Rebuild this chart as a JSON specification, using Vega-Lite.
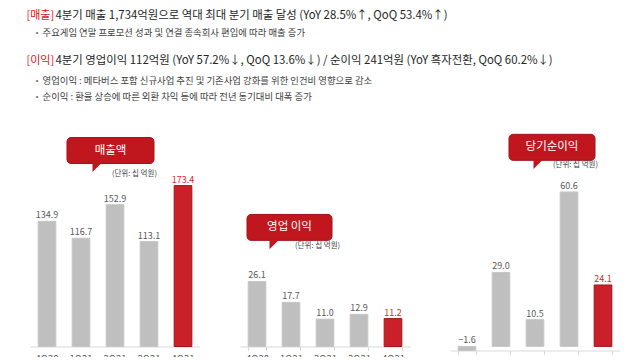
{
  "$schema": "https://vega.github.io/schema/vega-lite/v6.json",
  "background": "white",
  "padding": {"left": 26, "top": 0, "right": 0, "bottom": -10},
  "bounds": "flush",
  "spacing": 8.25,
  "config": {
    "font": "Noto Sans CJK KR",
    "view": {"stroke": null},
    "axis": {"labelFont": "Noto Sans CJK KR"}
  },
  "vconcat": [
    {
      "width": 1,
      "height": 49,
      "data": {"values": [
        {"line": "1", "kind": "head", "prefix": "[매출]", "text": "4분기 매출 1,734억원으로 역대 최대 분기 매출 달성 (YoY 28.5%↑, QoQ 53.4%↑)"},
        {"line": "2", "kind": "bullet", "prefix": "", "text": "주요게임 연말 프로모션 성과 및 연결 종속회사 편입에 따라 매출 증가"}
      ]},
      "encoding": {"y": {"field": "line", "type": "ordinal", "axis": null, "scale": {"type": "point", "padding": 0.94}}},
      "layer": [
        {"transform": [{"filter": "datum.kind === 'head'"}], "mark": {"type": "text", "align": "left", "baseline": "middle", "dx": -4, "fontSize": 11, "color": "#e0121b"}, "encoding": {"text": {"field": "prefix"}}},
        {"transform": [{"filter": "datum.kind === 'head'"}], "mark": {"type": "text", "align": "left", "baseline": "middle", "dx": 25, "fontSize": 11.4, "color": "#262626"}, "encoding": {"text": {"field": "text"}}},
        {"transform": [{"filter": "datum.kind === 'bullet'"}], "mark": {"type": "text", "align": "left", "baseline": "middle", "dx": 3, "fontSize": 7, "color": "#7f7f7f"}, "encoding": {"text": {"value": "▪"}}},
        {"transform": [{"filter": "datum.kind === 'bullet'"}], "mark": {"type": "text", "align": "left", "baseline": "middle", "dx": 12, "fontSize": 9.4, "color": "#404040"}, "encoding": {"text": {"field": "text"}}}
      ]
    },
    {
      "width": 1,
      "height": 64.5,
      "data": {"values": [
        {"line": "3", "kind": "head", "prefix": "[이익]", "text": "4분기 영업이익 112억원 (YoY 57.2%↓, QoQ 13.6%↓) / 순이익 241억원 (YoY 흑자전환, QoQ 60.2%↓)"},
        {"line": "4", "kind": "bullet", "prefix": "", "text": "영업이익 : 메타버스 포함 신규사업 추진 및 기존사업 강화를 위한 인건비 영향으로 감소"},
        {"line": "5", "kind": "bullet", "prefix": "", "text": "순이익 : 환율 상승에 따른 외환 차익 등에 따라 전년 동기대비 대폭 증가"}
      ]},
      "encoding": {"y": {"field": "line", "type": "ordinal", "axis": null, "scale": {"type": "point", "padding": 1.081, "align": 0.231}}},
      "layer": [
        {"transform": [{"filter": "datum.kind === 'head'"}], "mark": {"type": "text", "align": "left", "baseline": "middle", "dx": -4, "dy": -4, "fontSize": 11, "color": "#e0121b"}, "encoding": {"text": {"field": "prefix"}}},
        {"transform": [{"filter": "datum.kind === 'head'"}], "mark": {"type": "text", "align": "left", "baseline": "middle", "dx": 25, "dy": -4, "fontSize": 11.4, "color": "#262626"}, "encoding": {"text": {"field": "text"}}},
        {"transform": [{"filter": "datum.kind === 'bullet'"}], "mark": {"type": "text", "align": "left", "baseline": "middle", "dx": 3, "fontSize": 7, "color": "#7f7f7f"}, "encoding": {"text": {"value": "▪"}}},
        {"transform": [{"filter": "datum.kind === 'bullet'"}], "mark": {"type": "text", "align": "left", "baseline": "middle", "dx": 12, "fontSize": 9.4, "color": "#404040"}, "encoding": {"text": {"field": "text"}}}
      ]
    },
    {
      "bounds": "flush",
      "spacing": 40,
      "hconcat": [
        {
          "width": 170,
          "height": 216,
          "resolve": {"scale": {"x": "independent"}},
          "layer": [
            {
              "data": {"values": [
                {"quarter": "4Q20", "value": 134.9, "period": "prior"},
                {"quarter": "1Q21", "value": 116.7, "period": "prior"},
                {"quarter": "2Q21", "value": 152.9, "period": "prior"},
                {"quarter": "3Q21", "value": 113.1, "period": "prior"},
                {"quarter": "4Q21", "value": 173.4, "period": "current"}
              ]},
              "encoding": {
                "x": {"field": "quarter", "type": "nominal", "sort": null, "scale": {"paddingInner": 0.48, "paddingOuter": 0.24},
                  "axis": {"title": null, "labelAngle": 0, "labelFontSize": 9.5, "labelColor": "#595959", "domainColor": "#d9d9d9", "ticks": false, "labelPadding": 7}},
                "y": {"field": "value", "type": "quantitative", "scale": {"domain": [0, 232.8], "nice": false}, "axis": null}
              },
              "layer": [
                {"mark": {"type": "bar", "strokeWidth": 1},
                  "encoding": {
                    "fill": {"condition": {"test": "datum.period === 'current'", "value": "#c9202a"}, "value": "#bfbfbf"},
                    "stroke": {"condition": {"test": "datum.period === 'current'", "value": "#a3161d"}, "value": "#c6c6c6"}
                  }},
                {"mark": {"type": "text", "baseline": "bottom", "dy": -1, "fontSize": 9},
                  "encoding": {
                    "text": {"field": "value", "type": "quantitative", "format": ".1f"},
                    "color": {"condition": {"test": "datum.period === 'current'", "value": "#e0242e"}, "value": "#595959"}
                  }}
              ]
            },
            {
              "data": {"values": [{"title": "매출액", "unit": "(단위: 십 억원)"}]},
              "layer": [
                {"mark": {"type": "rect", "fill": "#c0171f", "stroke": "#a31219", "cornerRadius": 4},
                  "encoding": {
                    "x": {"datum": 1.088, "type": "quantitative", "scale": {"domain": [0, 5], "nice": false, "zero": false}, "axis": null},
                    "x2": {"datum": 3.647},
                    "y": {"datum": 225.2, "type": "quantitative"},
                    "y2": {"datum": 197.2}
                  }},
                {"mark": {"type": "point", "shape": "M-1,-1L-1,1L1,-1Z", "filled": true, "fill": "#c0171f", "opacity": 1, "size": 81},
                  "encoding": {
                    "x": {"datum": 1.97, "type": "quantitative"},
                    "y": {"datum": 192.9, "type": "quantitative"}
                  }},
                {"mark": {"type": "text", "color": "white", "fontSize": 11.5, "baseline": "middle"},
                  "encoding": {
                    "x": {"datum": 2.368, "type": "quantitative"},
                    "y": {"datum": 211.2, "type": "quantitative"},
                    "text": {"field": "title"}
                  }},
                {"mark": {"type": "text", "color": "#404040", "fontSize": 7.5, "align": "left", "baseline": "middle"},
                  "encoding": {
                    "x": {"datum": 2.41, "type": "quantitative"},
                    "y": {"datum": 186.4, "type": "quantitative"},
                    "text": {"field": "unit"}
                  }}
              ]
            }
          ]
        },
        {
          "width": 170,
          "height": 216,
          "resolve": {"scale": {"x": "independent"}},
          "layer": [
            {
              "data": {"values": [
                {"quarter": "4Q20", "value": 26.1, "period": "prior"},
                {"quarter": "1Q21", "value": 17.7, "period": "prior"},
                {"quarter": "2Q21", "value": 11.0, "period": "prior"},
                {"quarter": "3Q21", "value": 12.9, "period": "prior"},
                {"quarter": "4Q21", "value": 11.2, "period": "current"}
              ]},
              "encoding": {
                "x": {"field": "quarter", "type": "nominal", "sort": null, "scale": {"paddingInner": 0.48, "paddingOuter": 0.24},
                  "axis": {"title": null, "labelAngle": 0, "labelFontSize": 9.5, "labelColor": "#595959", "domainColor": "#d9d9d9", "ticks": true, "tickBand": "extent", "tickSize": 4, "tickColor": "#d9d9d9", "labelPadding": 3}},
                "y": {"field": "value", "type": "quantitative", "scale": {"domain": [0, 86.7], "nice": false}, "axis": null}
              },
              "layer": [
                {"mark": {"type": "bar", "strokeWidth": 1},
                  "encoding": {
                    "fill": {"condition": {"test": "datum.period === 'current'", "value": "#c9202a"}, "value": "#bfbfbf"},
                    "stroke": {"condition": {"test": "datum.period === 'current'", "value": "#a3161d"}, "value": "#c6c6c6"}
                  }},
                {"mark": {"type": "text", "baseline": "bottom", "dy": -1, "fontSize": 9},
                  "encoding": {
                    "text": {"field": "value", "type": "quantitative", "format": ".1f"},
                    "color": {"condition": {"test": "datum.period === 'current'", "value": "#e0242e"}, "value": "#595959"}
                  }}
              ]
            },
            {
              "data": {"values": [{"title": "영업 이익", "unit": "(단위: 십 억원)"}]},
              "layer": [
                {"mark": {"type": "rect", "fill": "#c0171f", "stroke": "#a31219", "cornerRadius": 4},
                  "encoding": {
                    "x": {"datum": 0.206, "type": "quantitative", "scale": {"domain": [0, 5], "nice": false, "zero": false}, "axis": null},
                    "x2": {"datum": 2.706},
                    "y": {"datum": 53.0, "type": "quantitative"},
                    "y2": {"datum": 42.6}
                  }},
                {"mark": {"type": "point", "shape": "M-1,-1L-1,1L1,-1Z", "filled": true, "fill": "#c0171f", "opacity": 1, "size": 81},
                  "encoding": {
                    "x": {"datum": 1.0, "type": "quantitative"},
                    "y": {"datum": 40.8, "type": "quantitative"}
                  }},
                {"mark": {"type": "text", "color": "white", "fontSize": 11.5, "baseline": "middle"},
                  "encoding": {
                    "x": {"datum": 1.456, "type": "quantitative"},
                    "y": {"datum": 47.8, "type": "quantitative"},
                    "text": {"field": "title"}
                  }},
                {"mark": {"type": "text", "color": "#404040", "fontSize": 7.5, "align": "left", "baseline": "middle"},
                  "encoding": {
                    "x": {"datum": 1.62, "type": "quantitative"},
                    "y": {"datum": 40.2, "type": "quantitative"},
                    "text": {"field": "unit"}
                  }}
              ]
            }
          ]
        },
        {
          "width": 170,
          "height": 220,
          "resolve": {"scale": {"x": "independent"}},
          "layer": [
            {
              "data": {"values": [
                {"quarter": "4Q20", "value": -1.6, "period": "prior"},
                {"quarter": "1Q21", "value": 29.0, "period": "prior"},
                {"quarter": "2Q21", "value": 10.5, "period": "prior"},
                {"quarter": "3Q21", "value": 60.6, "period": "prior"},
                {"quarter": "4Q21", "value": 24.1, "period": "current"}
              ]},
              "encoding": {
                "x": {"field": "quarter", "type": "nominal", "sort": null, "scale": {"paddingInner": 0.48, "paddingOuter": 0.24},
                  "axis": {"title": null, "labelAngle": 0, "labelFontSize": 9.5, "labelColor": "#595959", "domainColor": "#d9d9d9", "ticks": true, "tickBand": "extent", "tickSize": 4, "tickColor": "#d9d9d9", "labelPadding": 3}},
                "y": {"field": "value", "type": "quantitative", "scale": {"domain": [-1.6, 84.7], "nice": false}, "axis": null}
              },
              "layer": [
                {"mark": {"type": "bar", "strokeWidth": 1},
                  "encoding": {
                    "fill": {"condition": {"test": "datum.period === 'current'", "value": "#c9202a"}, "value": "#bfbfbf"},
                    "stroke": {"condition": {"test": "datum.period === 'current'", "value": "#a3161d"}, "value": "#c6c6c6"}
                  }},
                {"transform": [{"filter": "datum.value >= 0"}],
                  "mark": {"type": "text", "baseline": "bottom", "dy": -1, "fontSize": 9},
                  "encoding": {
                    "text": {"field": "value", "type": "quantitative", "format": ".1f"},
                    "color": {"condition": {"test": "datum.period === 'current'", "value": "#e0242e"}, "value": "#595959"}
                  }},
                {"transform": [{"filter": "datum.value < 0"}],
                  "mark": {"type": "text", "baseline": "bottom", "dy": -1, "fontSize": 9, "color": "#595959"},
                  "encoding": {
                    "y": {"datum": 0, "type": "quantitative"},
                    "text": {"field": "value", "type": "quantitative", "format": ".1f"}
                  }}
              ]
            },
            {
              "data": {"values": [{"title": "당기순이익", "unit": "(단위: 십 억원)"}]},
              "layer": [
                {"mark": {"type": "rect", "fill": "#c0171f", "stroke": "#a31219", "cornerRadius": 4},
                  "encoding": {
                    "x": {"datum": 1.735, "type": "quantitative", "scale": {"domain": [0, 5], "nice": false, "zero": false}, "axis": null},
                    "x2": {"datum": 4.265},
                    "y": {"datum": 83.2, "type": "quantitative"},
                    "y2": {"datum": 73.0}
                  }},
                {"mark": {"type": "point", "shape": "M-1,-1L-1,1L1,-1Z", "filled": true, "fill": "#c0171f", "opacity": 1, "size": 81},
                  "encoding": {
                    "x": {"datum": 2.588, "type": "quantitative"},
                    "y": {"datum": 71.4, "type": "quantitative"}
                  }},
                {"mark": {"type": "text", "color": "white", "fontSize": 11.5, "baseline": "middle"},
                  "encoding": {
                    "x": {"datum": 3.0, "type": "quantitative"},
                    "y": {"datum": 78.1, "type": "quantitative"},
                    "text": {"field": "title"}
                  }},
                {"mark": {"type": "text", "color": "#404040", "fontSize": 7.5, "align": "left", "baseline": "middle"},
                  "encoding": {
                    "x": {"datum": 3.03, "type": "quantitative"},
                    "y": {"datum": 71.0, "type": "quantitative"},
                    "text": {"field": "unit"}
                  }}
              ]
            }
          ]
        }
      ]
    }
  ]
}
